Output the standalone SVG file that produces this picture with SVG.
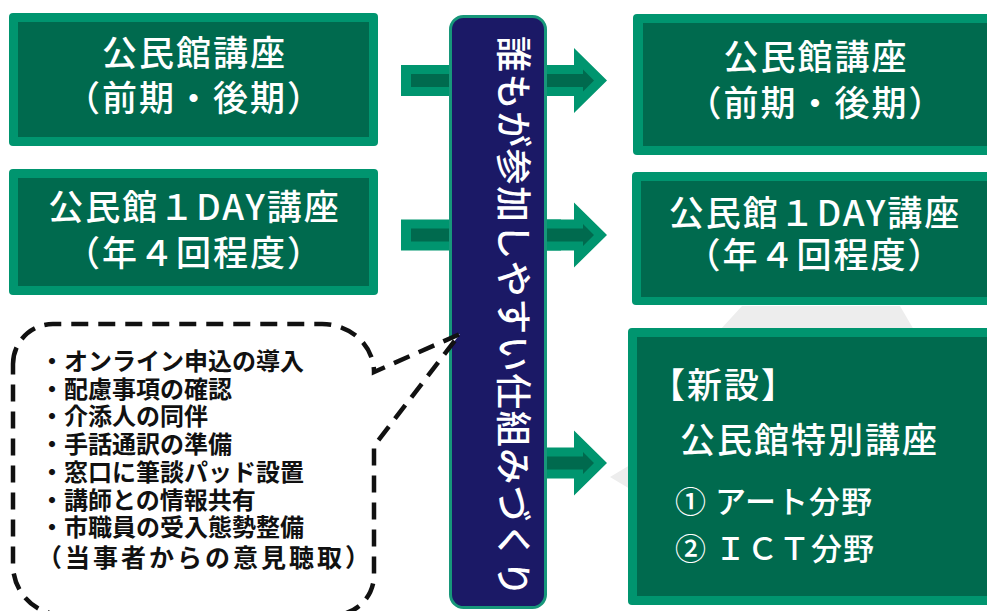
<svg xmlns="http://www.w3.org/2000/svg" width="987" height="611" viewBox="0 0 987 611">
<style>
.out{fill:#00956F}
.in{fill:#006A4E}
.t{font-family:"Noto Sans CJK JP","Noto Sans CJK SC",sans-serif;fill:#ffffff;font-weight:500;font-size:35px;letter-spacing:2px}
.m{text-anchor:middle}
.c{font-family:"Noto Sans CJK JP","Noto Sans CJK SC",sans-serif;fill:#111111;font-weight:700;font-size:24px}
</style>
<defs>
<g id="arrowR">
<polygon class="out" points="0,-15.5 27,-15.5 27,-32.5 60,0 27,32.5 27,15.5 0,15.5"/>
<polygon class="in" points="0,-6.5 36,-6.5 36,-11 47,0 36,11 36,6.5 0,6.5"/>
</g>
</defs>
<rect width="987" height="611" fill="#ffffff"/>
<g id="background">
<polygon points="742,306 900,306 914,330 720,330" fill="#ededed"/>
<polygon points="610,477 630,465 630,489" fill="#ededed"/>
</g>
<g id="connectors">
<rect class="out" x="401" y="65" width="160" height="31"/>
<rect class="in" x="411" y="74" width="150" height="13"/>
<use href="#arrowR" x="547" y="80.5"/>
<rect class="out" x="401" y="219.5" width="160" height="31"/>
<rect class="in" x="411" y="228.5" width="150" height="13"/>
<use href="#arrowR" x="547" y="235"/>
<use href="#arrowR" x="547" y="463"/>
</g>
<g id="node-left-1">
<rect class="out" x="9" y="13" width="369" height="133" rx="4"/>
<rect class="in" x="18" y="22" width="351" height="115"/>
<text class="t m" x="194.5" y="66">公民館講座</text>
<text class="t m" x="194.5" y="111">（前期・後期）</text>
</g>
<g id="node-left-2">
<rect class="out" x="9" y="169" width="369" height="126" rx="4"/>
<rect class="in" x="18" y="178" width="351" height="108"/>
<text class="t m" x="194.5" y="220">公民館１DAY講座</text>
<text class="t m" x="194.5" y="266">（年４回程度）</text>
</g>
<g id="node-right-1">
<rect class="out" x="633" y="14" width="380" height="141" rx="4"/>
<rect class="in" x="643" y="23" width="370" height="123"/>
<text class="t m" x="816" y="70">公民館講座</text>
<text class="t m" x="816" y="116">（前期・後期）</text>
</g>
<g id="node-right-2">
<rect class="out" x="632" y="172" width="380" height="133" rx="4"/>
<rect class="in" x="641" y="181" width="370" height="116"/>
<text class="t m" x="815" y="226">公民館１DAY講座</text>
<text class="t m" x="815" y="268">（年４回程度）</text>
</g>
<g id="node-right-3">
<rect class="out" x="628" y="328" width="385" height="277" rx="4"/>
<rect class="in" x="637" y="337" width="376" height="259"/>
<text class="t" x="650" y="398">【新設】</text>
<text class="t" x="680" y="453">公民館特別講座</text>
<text class="t" x="675" y="513" style="font-size:31px;letter-spacing:1px">① アート分野</text>
<text class="t" x="675" y="560" style="font-size:31px;letter-spacing:1px">② ＩＣＴ分野</text>
</g>
<g id="node-center">
<rect x="450.5" y="16.5" width="95" height="591" rx="13" fill="#1B1966" stroke="#17977A" stroke-width="3"/>
<text transform="translate(500,36) rotate(90)" style="font-family:'Noto Sans CJK JP','Noto Sans CJK SC',sans-serif;fill:#ffffff;font-weight:500;font-size:36px;letter-spacing:1.5px">誰もが参加しやすい仕組みづくり</text>
</g>
<g id="node-callout">
<path d="M 13,364 A 40,40 0 0 1 53,324 H 322 A 52,48 0 0 1 374,372 L 460,334 L 374,446 V 575 A 40,40 0 0 1 334,615 H 63 A 50,50 0 0 1 13,565 Z" fill="#ffffff" stroke="#111111" stroke-width="4.5" stroke-dasharray="17 10"/>
<text class="c" x="40" y="370">・オンライン申込の導入</text>
<text class="c" x="40" y="397.5">・配慮事項の確認</text>
<text class="c" x="40" y="425">・介添人の同伴</text>
<text class="c" x="40" y="453">・手話通訳の準備</text>
<text class="c" x="40" y="481">・窓口に筆談パッド設置</text>
<text class="c" x="40" y="508.5">・講師との情報共有</text>
<text class="c" x="40" y="536">・市職員の受入態勢整備</text>
<text class="c" x="37" y="567" style="font-size:25px;letter-spacing:3px">（当事者からの意見聴取）</text>
</g>
</svg>
